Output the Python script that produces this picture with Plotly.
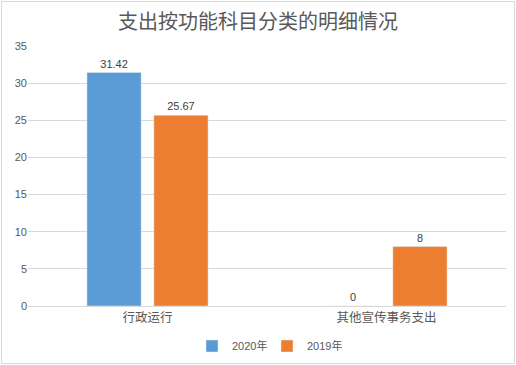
import plotly.graph_objects as go

categories = ["行政运行", "其他宣传事务支出"]
series_names = ["2020年", "2019年"]
values_2020 = [31.42, 0]
values_2019 = [25.67, 8]
y_ticks = [0, 5, 10, 15, 20, 25, 30, 35]

colors = ["#5B9BD5", "#ED7D31"]
font_family = "Liberation Sans, Noto Sans CJK SC, sans-serif"

fig = go.Figure()
for name, vals, col in zip(series_names, [values_2020, values_2019], colors):
    fig.add_trace(go.Bar(
        x=categories, y=vals, name=name, marker_color=col,
        text=[f"{v:g}" for v in vals], textposition="outside",
        textfont=dict(size=11, color="#404040", family=font_family),
        cliponaxis=False,
    ))

L, R, T, B = 28, 10, 46, 59
W, H = 516, 365
pw, ph = W - L - R, H - T - B

fig.update_layout(
    width=W, height=H,
    margin=dict(l=L, r=R, t=T, b=B, autoexpand=False),
    paper_bgcolor="white", plot_bgcolor="white",
    font=dict(family=font_family, color="#595959", size=11),
    title=dict(text="支出按功能科目分类的明细情况", x=0.5, xanchor="center",
               y=1 - 22 / H, yanchor="middle",
               font=dict(size=20, color="#595959", family="Noto Sans CJK SC, sans-serif")),
    barmode="group", bargap=0.44, bargroupgap=0.19,
    showlegend=True,
    legend=dict(orientation="h", x=0.5, xanchor="center", yref="container",
                y=1 - 346 / H, yanchor="middle",
                font=dict(size=11, color="#595959"), itemwidth=30,
                entrywidth=30, traceorder="normal"),
    xaxis=dict(showline=True, linecolor="#d9d9d9", linewidth=1, ticks="",
               tickfont=dict(size=12.5, color="#595959", family="Noto Sans CJK SC, sans-serif")),
    yaxis=dict(range=[0, 35], tickvals=y_ticks, showgrid=True, gridcolor="#d9d9d9",
               zeroline=False, ticks="", tickfont=dict(size=11, color="#595959")),
    shapes=[dict(type="rect", xref="paper", yref="paper",
                 x0=(1.5 - L) / pw, x1=(W - 1.5 - L) / pw,
                 y0=(H - B - (H - 1.5)) / ph, y1=(H - B - 1.5) / ph,
                 line=dict(color="#d9d9d9", width=1), fillcolor="rgba(0,0,0,0)", layer="below")],
)

fig.write_html("out.html", config={"displayModeBar": False},
               post_script="document.body.style.margin='0';document.body.style.overflow='hidden';")
